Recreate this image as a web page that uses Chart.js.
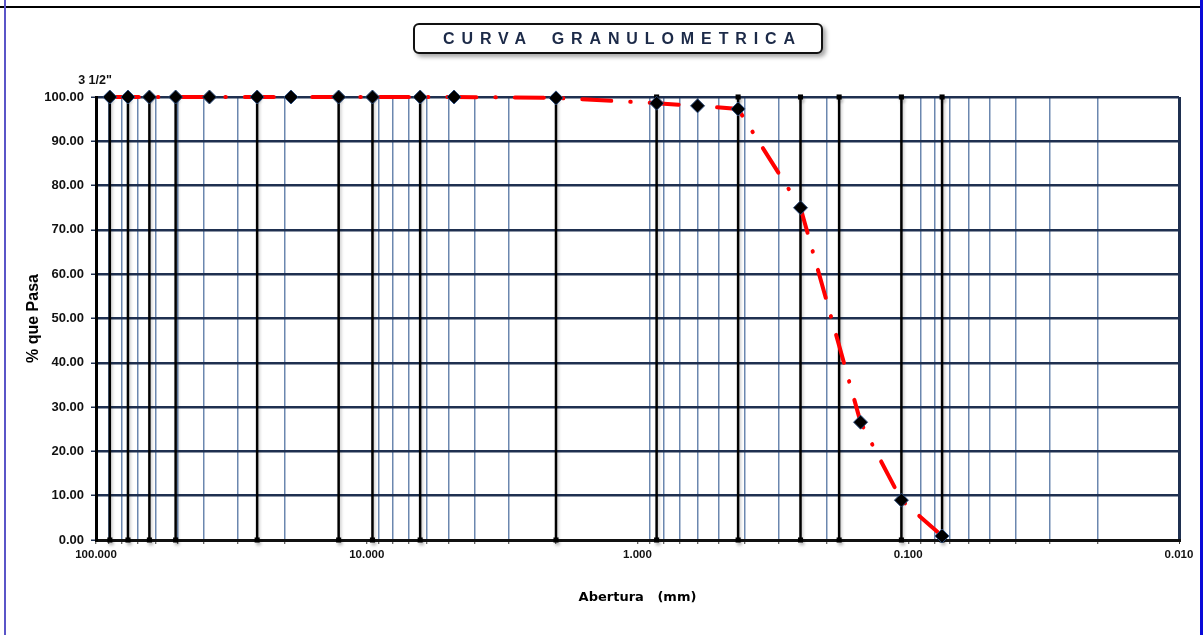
<!DOCTYPE html>
<html>
<head>
<meta charset="utf-8">
<script src="https://cdn.jsdelivr.net/npm/chart.js@4.4.1/dist/chart.umd.min.js"></script>
<style>
    html, body { margin: 0; padding: 0; background: #fff; }
    #wrap { position: relative; width: 1204px; height: 635px; overflow: hidden; }
    #chart { position: absolute; left: 0; top: 0; }
    .edge { position: absolute; }
    #title {
        position: absolute; left: 413px; top: 23px; width: 378px; height: 27px;
        border: 2px solid #111; border-radius: 6px; background: #fff;
        box-shadow: 3px 3px 4px rgba(0, 0, 0, 0.35);
        font: bold 16px "Liberation Sans", Arial, sans-serif;
        color: #1c2a48; letter-spacing: 6.9px; word-spacing: 8px;
        text-align: left; line-height: 28px; padding-left: 28px;
        white-space: nowrap;
    }
</style>
</head>
<body>
<div id="wrap">
    <canvas id="chart" width="1204" height="635"></canvas>
    <div class="edge" style="left:0;top:6px;width:1201px;height:2px;background:#000;"></div>
    <div class="edge" style="left:4px;top:0;width:2px;height:635px;background:#5a55c8;"></div>
    <div class="edge" style="left:1200px;top:0;width:3px;height:635px;background:#0a0ad8;"></div>
    <div id="title">CURVA GRANULOMETRICA</div>
</div>
<script>
// Sieve openings (mm) and % passing
const sieveSizes = [88.9, 76.2, 63.5, 50.8, 38.1, 25.4, 19.05, 12.7, 9.525, 6.35, 4.76,
                    2.0, 0.85, 0.6, 0.425, 0.25, 0.15, 0.106, 0.075];
const percentPassing = [100, 100, 100, 100, 100, 100, 100, 100, 100, 100, 100,
                        99.8, 98.6, 98.0, 97.3, 75.0, 26.6, 9.0, 0.9];

// Black reference sieve lines
const markerSieves = [88.9, 76.2, 63.5, 50.8, 25.4, 12.7, 9.525, 6.35, 2.0, 0.85,
                      0.425, 0.25, 0.18, 0.106, 0.075];

// Axis settings
const xMin = 0.01;
const xMax = 100;
const yTicks = [0, 10, 20, 30, 40, 50, 60, 70, 80, 90, 100];
const topLabel = '3 1/2"';

const isDecade = v => Math.abs(Math.log10(v) - Math.round(Math.log10(v))) < 1e-6;

// Build vertical segments for the sieve lines (gaps between them)
const markerData = [];
markerSieves.forEach(s => {
    markerData.push({ x: s, y: 0 }, { x: s, y: 100 }, { x: s, y: null });
});

// Draws the small label above the top-left corner and adds shadow to sieve lines
const extrasPlugin = {
    id: 'extras',
    beforeDatasetDraw(chart, args) {
        if (args.index === 1) {
            const ctx = chart.ctx;
            ctx.save();
            ctx.shadowColor = 'rgba(0,0,0,0.22)';
            ctx.shadowBlur = 3;
            ctx.shadowOffsetX = 1.5;
            ctx.shadowOffsetY = 3;
        }
    },
    afterDatasetDraw(chart, args) {
        if (args.index === 1) chart.ctx.restore();
    },
    afterDraw(chart) {
        const ctx = chart.ctx;
        const area = chart.chartArea;
        ctx.save();
        ctx.font = 'bold 12.5px "Liberation Sans", Arial, sans-serif';
        ctx.fillStyle = '#111';
        ctx.textAlign = 'center';
        ctx.textBaseline = 'middle';
        ctx.fillText(topLabel, area.left - 1, area.top - 16);
        ctx.restore();
    }
};

const ctx = document.getElementById('chart').getContext('2d');

new Chart(ctx, {
    type: 'line',
    data: {
        datasets: [{
            label: 'Curva',
            data: sieveSizes.map((s, i) => ({ x: s, y: percentPassing[i] })),
            borderColor: '#ff0000',
            borderWidth: 4,
            borderDash: [29, 19, 0.5, 19],
            borderCapStyle: 'round',
            tension: 0,
            clip: false,
            pointStyle: 'rectRot',
            pointRadius: 7,
            pointBackgroundColor: '#000',
            pointBorderColor: '#2a4a7a',
            pointBorderWidth: 1,
            order: 0,
        }, {
            label: 'Tamices',
            data: markerData,
            borderColor: '#000',
            borderWidth: 2.5,
            spanGaps: false,
            clip: false,
            pointStyle: 'rect',
            pointRadius: 3.6,
            pointBackgroundColor: '#000',
            pointBorderWidth: 0,
            order: 1,
        }]
    },
    options: {
        responsive: false,
        animation: false,
        events: [],
        layout: { padding: { left: 0, right: 25, top: 97, bottom: 0 } },
        plugins: {
            legend: { display: false },
            tooltip: { enabled: false },
        },
        scales: {
            x: {
                type: 'logarithmic',
                reverse: true,
                min: xMin,
                max: xMax,
                afterBuildTicks: (scale) => {
                    const ticks = [];
                    for (let e = -2; e <= 1; e++) {
                        for (let k = 1; k <= 9; k++) {
                            ticks.push({ value: parseFloat((k * Math.pow(10, e)).toPrecision(6)) });
                        }
                    }
                    ticks.push({ value: 100 });
                    scale.ticks = ticks;
                },
                afterFit: (scale) => { scale.height = 95; },
                border: { display: true, color: '#111', width: 3 },
                grid: {
                    color: (c) => {
                        const v = c.tick && c.tick.value;
                        if (v === xMin) return '#1f3050';
                        if (v && isDecade(v)) return 'rgba(0,0,0,0)';
                        return 'rgba(70,105,155,0.8)';
                    },
                    lineWidth: (c) => (c.tick && c.tick.value === xMin ? 3 : 1.5),
                    drawTicks: true,
                    tickLength: 4,
                    tickColor: '#333',
                    tickWidth: 1,
                },
                ticks: {
                    autoSkip: false,
                    maxRotation: 0,
                    padding: 4,
                    color: '#111',
                    font: { family: '"Liberation Sans", Arial, sans-serif', size: 11.5, weight: 'bold' },
                    callback: (v) => (isDecade(v) ? Number(v).toFixed(3) : ''),
                },
                title: {
                    display: true,
                    text: 'Abertura   (mm)',
                    color: '#000',
                    font: { family: '"DejaVu Sans", sans-serif', size: 13, weight: 'bold' },
                    padding: { top: 0, bottom: 30 },
                },
            },
            y: {
                min: 0,
                max: 100,
                afterBuildTicks: (scale) => { scale.ticks = yTicks.map(v => ({ value: v })); },
                afterFit: (scale) => { scale.width = 96; },
                border: { display: true, color: '#000', width: 3 },
                grid: {
                    color: '#1f3050',
                    lineWidth: 2.5,
                    drawTicks: true,
                    tickLength: 5,
                    tickColor: '#1f3050',
                    tickWidth: 1.5,
                },
                ticks: {
                    padding: 7,
                    color: '#111',
                    font: { family: '"Liberation Sans", Arial, sans-serif', size: 13, weight: 'bold' },
                    callback: (v) => Number(v).toFixed(2),
                },
                title: {
                    display: true,
                    text: '% que Pasa',
                    color: '#000',
                    font: { family: '"Liberation Sans", Arial, sans-serif', size: 16, weight: 'bold' },
                    padding: { top: 24, bottom: 0 },
                },
            },
        },
    },
    plugins: [extrasPlugin],
});
</script>
</body>
</html>
